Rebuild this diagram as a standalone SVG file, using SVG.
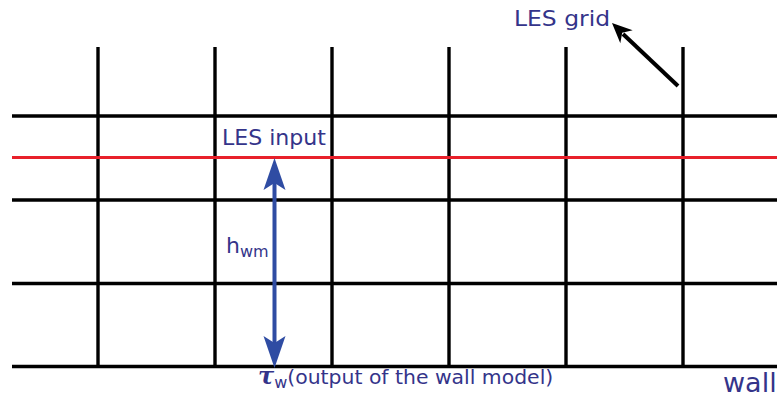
<svg xmlns="http://www.w3.org/2000/svg" width="777" height="399" viewBox="0 0 777 399">
<style>
.g{stroke:#000;stroke-width:3.4;fill:none}
.r{stroke:#e8202a;stroke-width:3.2;fill:none}
.t{font-family:"DejaVu Sans","Verdana",sans-serif;fill:#34348a}
.b{fill:#2f4ca3}
</style>
<rect width="777" height="399" fill="#fff"/>
<g id="grid">
<line class="g" x1="12" y1="116" x2="777" y2="116"/>
<line class="g" x1="12" y1="200" x2="777" y2="200"/>
<line class="g" x1="12" y1="283.5" x2="777" y2="283.5"/>
<line class="g" x1="12" y1="366.5" x2="777" y2="366.5"/>
<line class="g" x1="98" y1="47" x2="98" y2="366.5"/>
<line class="g" x1="215" y1="47" x2="215" y2="366.5"/>
<line class="g" x1="332" y1="47" x2="332" y2="366.5"/>
<line class="g" x1="449" y1="47" x2="449" y2="366.5"/>
<line class="g" x1="566" y1="47" x2="566" y2="366.5"/>
<line class="g" x1="683" y1="47" x2="683" y2="366.5"/>
</g>
<g id="les-input-line">
<line class="r" x1="12" y1="157.5" x2="777" y2="157.5"/>
</g>
<g id="connectors">
<line x1="678" y1="86" x2="623" y2="34" stroke="#000" stroke-width="4"/>
<polygon points="612,23 632.7,30.3 622.2,32.7 620.3,43.3" fill="#000"/>
<line x1="274.5" y1="182" x2="274.5" y2="344" stroke="#2f4ca3" stroke-width="4"/>
<polygon class="b" points="274.5,158 285.5,190 274.5,183 263.5,190"/>
<polygon class="b" points="274.5,368 285.5,336 274.5,343 263.5,336"/>
</g>
<g id="labels">
<text class="t" x="514" y="26" font-size="22" textLength="96" lengthAdjust="spacingAndGlyphs">LES grid</text>
<text class="t" x="222" y="145" font-size="22" textLength="104" lengthAdjust="spacingAndGlyphs">LES input</text>
<text class="t" x="226" y="253" font-size="22">h<tspan font-size="16" dy="4">wm</tspan></text>
<text class="t" x="258" y="384" font-size="20"><tspan font-family="'DejaVu Serif',serif" font-weight="bold" font-style="italic" font-size="24">τ</tspan><tspan font-size="16" dy="4">w</tspan><tspan dy="-4" textLength="266" lengthAdjust="spacingAndGlyphs">(output of the wall model)</tspan></text>
<text class="t" x="723" y="392" font-size="27">wall</text>
</g>
</svg>
